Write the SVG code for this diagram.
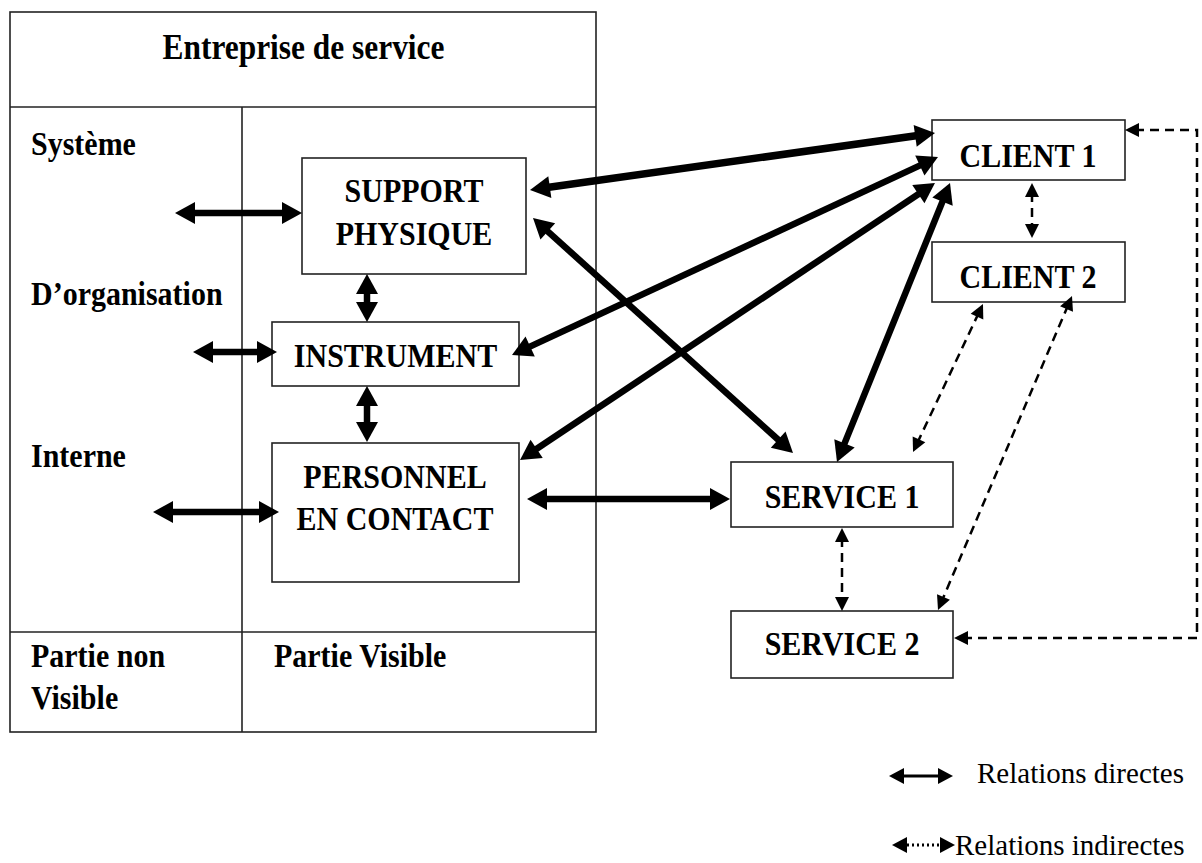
<svg xmlns="http://www.w3.org/2000/svg" width="1202" height="863" viewBox="0 0 1202 863">
  <style>
    .frame{fill:none;stroke:#222;stroke-width:1.6}
    .box{fill:#fff;stroke:#222;stroke-width:1.6}
    .t{font-family:"Liberation Serif","Times New Roman",serif;font-weight:bold;font-size:30px;fill:#000}
    .c{text-anchor:middle}
    .lg{font-family:"Liberation Serif","Times New Roman",serif;font-size:29px;fill:#000}
    .direct{fill:none;stroke:#000;stroke-width:6.5;marker-start:url(#head);marker-end:url(#head)}
    .indirect{fill:none;stroke:#000;stroke-width:2.5;stroke-dasharray:9 6;marker-start:url(#headD);marker-end:url(#headD)}
  </style>
  <defs>
    <!-- large filled head for the direct relations -->
    <marker id="head" viewBox="-2 -13 26 26" markerUnits="userSpaceOnUse" markerWidth="26" markerHeight="26" refX="8" refY="0" orient="auto-start-reverse" overflow="visible">
      <path d="M0,-11 L20,0 L0,11 Z" fill="#000"/>
    </marker>
    <!-- smaller head for the indirect (dashed) relations -->
    <marker id="headD" viewBox="-2 -9 18 18" markerUnits="userSpaceOnUse" markerWidth="18" markerHeight="18" refX="4" refY="0" orient="auto-start-reverse" overflow="visible">
      <path d="M0,-7 L14,0 L0,7 Z" fill="#000"/>
    </marker>
    <!-- legend head -->
    <marker id="headS" viewBox="-2 -10 19 20" markerUnits="userSpaceOnUse" markerWidth="19" markerHeight="20" refX="5" refY="0" orient="auto-start-reverse" overflow="visible">
      <path d="M0,-8 L15,0 L0,8 Z" fill="#000"/>
    </marker>
  </defs>

  <rect width="1202" height="863" fill="#fff"/>

  <!-- Company frame -->
  <g id="entreprise">
    <rect class="frame" x="10" y="12" width="586" height="720"/>
    <line class="frame" x1="10" y1="107" x2="596" y2="107"/>
    <line class="frame" x1="242" y1="107" x2="242" y2="732"/>
    <line class="frame" x1="10" y1="632" x2="596" y2="632"/>
    <text class="t c" transform="translate(303.5,59) scale(1,1.15)" style="font-size:31.4px">Entreprise de service</text>
    <text class="t" transform="translate(31,155) scale(1,1.15)">Système</text>
    <text class="t" transform="translate(31,305) scale(1,1.15)">D’organisation</text>
    <text class="t" transform="translate(31,467) scale(1,1.15)">Interne</text>
    <text class="t" transform="translate(31,667) scale(1,1.15)">Partie non</text>
    <text class="t" transform="translate(31,709) scale(1,1.15)">Visible</text>
    <text class="t" transform="translate(274,667) scale(1,1.15)">Partie Visible</text>
  </g>

  <g id="support-physique">
    <rect class="box" x="302" y="158" width="224" height="116"/>
    <text class="t c" transform="translate(414,202) scale(1,1.15)">SUPPORT</text>
    <text class="t c" transform="translate(414,245) scale(1,1.15)">PHYSIQUE</text>
  </g>

  <g id="instrument">
    <rect class="box" x="272" y="322" width="247" height="64"/>
    <text class="t c" transform="translate(395.5,367) scale(1,1.15)">INSTRUMENT</text>
  </g>

  <g id="personnel">
    <rect class="box" x="272" y="443" width="247" height="139"/>
    <text class="t c" transform="translate(395,488) scale(1,1.15)">PERSONNEL</text>
    <text class="t c" transform="translate(395,530) scale(1,1.15)">EN CONTACT</text>
  </g>

  <g id="client1">
    <rect class="box" x="932" y="120" width="193" height="60"/>
    <text class="t c" transform="translate(1028,167) scale(1,1.15)">CLIENT 1</text>
  </g>

  <g id="client2">
    <rect class="box" x="932" y="242" width="193" height="60"/>
    <text class="t c" transform="translate(1028,288) scale(1,1.15)">CLIENT 2</text>
  </g>

  <g id="service1">
    <rect class="box" x="731" y="462" width="222" height="65"/>
    <text class="t c" transform="translate(842,508) scale(1,1.15)">SERVICE 1</text>
  </g>

  <g id="service2">
    <rect class="box" x="731" y="611" width="222" height="67"/>
    <text class="t c" transform="translate(842,655) scale(1,1.15)">SERVICE 2</text>
  </g>

  <!-- Relations -->
  <g id="connectors">
    <!-- direct relations -->
    <line class="direct" x1="187" y1="213" x2="290" y2="213"/>
    <line class="direct" x1="205" y1="352" x2="265" y2="352"/>
    <line class="direct" x1="165" y1="512" x2="267" y2="512"/>
    <line class="direct" x1="367" y1="286" x2="367" y2="310"/>
    <line class="direct" x1="367" y1="398" x2="367" y2="430"/>
    <line class="direct" x1="541.9" y1="188.3" x2="923.1" y2="134.7" style="stroke-width:7.5"/>
    <line class="direct" x1="522.9" y1="349.9" x2="927.1" y2="162.1"/>
    <line class="direct" x1="530" y1="453.3" x2="925" y2="189.7"/>
    <line class="direct" x1="841.5" y1="450.9" x2="945.5" y2="194.1"/>
    <line class="direct" x1="541.9" y1="226.1" x2="784.1" y2="445"/>
    <line class="direct" x1="539" y1="499" x2="718" y2="499"/>
    <!-- indirect relations -->
    <line class="indirect" x1="1032" y1="193" x2="1032" y2="228"/>
    <line class="indirect" x1="978.7" y1="313" x2="917.3" y2="443"/>
    <line class="indirect" x1="1068.1" y1="305.2" x2="941.9" y2="600.8"/>
    <line class="indirect" x1="842" y1="538" x2="842" y2="601"/>
    <path class="indirect" d="M1135,130 H1197 V638 H964"/>
  </g>

  <!-- Legend -->
  <g id="legend">
    <line x1="899" y1="776" x2="943" y2="776" stroke="#000" stroke-width="3" marker-start="url(#headS)" marker-end="url(#headS)"/>
    <text class="lg" x="977" y="783">Relations directes</text>
    <line x1="902" y1="845" x2="945" y2="845" stroke="#000" stroke-width="3" stroke-dasharray="2 3" marker-start="url(#headS)" marker-end="url(#headS)"/>
    <text class="lg" x="955" y="855">Relations indirectes</text>
  </g>
</svg>
